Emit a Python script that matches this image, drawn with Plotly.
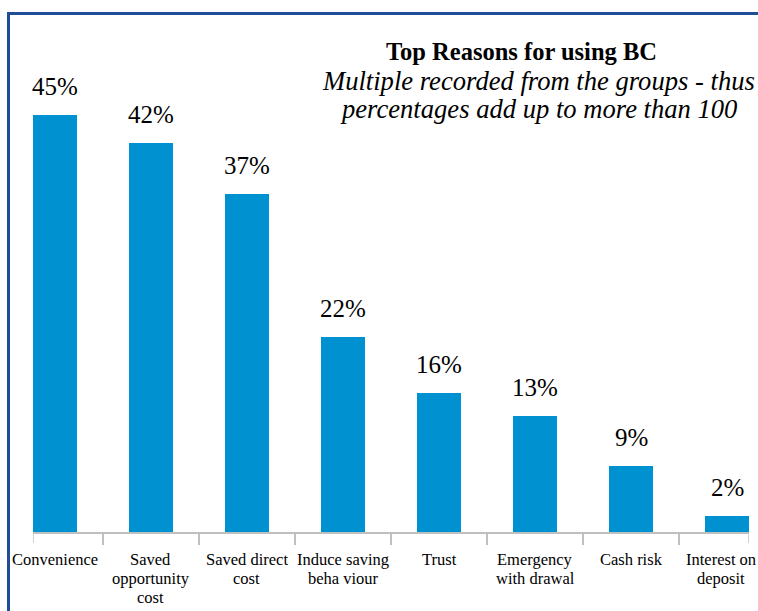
import plotly.graph_objects as go

categories = ["Convenience", "Saved<br>opportunity<br>cost", "Saved direct<br>cost",
              "Induce saving<br>beha viour", "Trust", "Emergency<br>with drawal",
              "Cash risk", "Interest on<br>deposit"]
bar_heights = [45, 42, 36.5, 21, 15, 12.5, 7.1, 1.7]
bar_labels = ["45%", "42%", "37%", "22%", "16%", "13%", "9%", "2%"]

title_text = "Top Reasons for using BC"
subtitle_lines = ["Multiple recorded from the groups - thus",
                  "percentages add up to more than 100"]

W, H = 758, 611
L, R, T, B = 33, 9, 59, 79
PW, PH = W - L - R, H - T - B
FONT = "Liberation Serif"
BAR = "#0092d0"
GRID = "#c0c0c0"
BW = 0.458
XR = [-BW / 2, len(categories) - 1 + BW / 2]

fig = go.Figure()
fig.add_trace(go.Bar(x=categories, y=bar_heights, width=BW,
                     marker=dict(color=BAR, line=dict(width=0)),
                     hoverinfo="skip"))

def px_x(p):
    return (p - L) / PW

def px_y(p):
    return (H - B - p) / PH

annotations = []
for c, v, t in zip(categories, bar_heights, bar_labels):
    annotations.append(dict(x=c, y=v, xref="x", yref="y", text=t, showarrow=False,
                            yanchor="bottom", yshift=13,
                            font=dict(family=FONT, size=25, color="#000")))

# category labels, one annotation per line for tight line spacing
CAT_SIZE = 16.5
for k, c in enumerate(categories):
    shift = -6 if k == len(categories) - 1 else 0
    for j, line in enumerate(c.split("<br>")):
        baseline = 566 + 19 * j
        annotations.append(dict(x=c, y=px_y(baseline + 1 + 0.216 * CAT_SIZE),
                                xref="x", yref="paper", text=line, showarrow=False,
                                xanchor="center", yanchor="bottom", xshift=shift,
                                font=dict(family=FONT, size=CAT_SIZE, color="#000")))

TS = 24.5
annotations.append(dict(x=px_x(521.5), y=px_y(61 + 1 + 0.216 * TS), xref="paper", yref="paper",
                        text="<b>" + title_text + "</b>", showarrow=False,
                        xanchor="center", yanchor="bottom",
                        font=dict(family=FONT, size=TS, color="#000")))
SS = 26.6
for i, line in enumerate(subtitle_lines):
    annotations.append(dict(x=px_x(538), y=px_y(91 + 28 * i + 1 + 0.216 * SS),
                            xref="paper", yref="paper",
                            text="<i>" + line + "</i>", showarrow=False,
                            xanchor="center", yanchor="bottom",
                            font=dict(family=FONT, size=SS, color="#000")))

shapes = [
    dict(type="rect", xref="paper", yref="paper",
         x0=px_x(8.5), x1=px_x(790), y0=px_y(640), y1=px_y(13.5),
         line=dict(color="#1f4e98", width=3), fillcolor="rgba(0,0,0,0)", layer="above"),
]
for xe in XR:
    shapes.append(dict(type="line", xref="x", yref="paper", x0=xe, x1=xe,
                       y0=0, y1=-11 / PH, line=dict(color=GRID, width=1.5)))

fig.update_layout(
    width=W, height=H,
    margin=dict(l=L, r=R, t=T, b=B, pad=0, autoexpand=False),
    paper_bgcolor="white", plot_bgcolor="white",
    showlegend=False,
    bargap=0,
    annotations=annotations,
    shapes=shapes,
    xaxis=dict(range=XR, showline=True, linecolor=GRID, linewidth=1.5,
               ticks="outside", tickson="boundaries", ticklen=11, tickcolor=GRID,
               tickwidth=1.5, showgrid=False, zeroline=False, automargin=False,
               showticklabels=False),
    yaxis=dict(range=[0, PH / 9.27], showline=False, showgrid=False, zeroline=False,
               showticklabels=False, ticks="", automargin=False),
)

fig.write_html("out.html", config={"displayModeBar": False},
               post_script="document.body.style.margin='0';document.body.style.overflow='hidden';")
